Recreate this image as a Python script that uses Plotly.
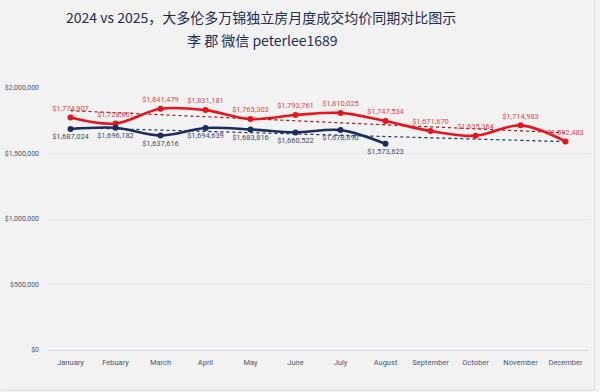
import numpy as np
import plotly.graph_objects as go

months = ["January", "Febuary", "March", "April", "May", "June", "July",
          "August", "September", "October", "November", "December"]
prices_2024 = [1774907, 1728801, 1841479, 1831181, 1763303, 1793761, 1810025,
               1747534, 1671670, 1635364, 1714983, 1592483]
prices_2025 = [1687024, 1696182, 1637616, 1694639, 1683816, 1660522, 1678690,
               1573623]
y_ticks = [0, 500000, 1000000, 1500000, 2000000]
title_line1 = "2024 vs 2025，大多伦多万锦独立房月度成交均价同期对比图示"
title_line2 = "李 郡 微信 peterlee1689"

RED = "#e8141c"
NAVY = "#1b2d5e"
BG = "#f2f2f2"

L, R, T, B = 47.5, 11.5, 88, 42
W, H = 600, 392
PW, PH = W - L - R, H - T - B

def fmt(v):
    return "${:,.0f}".format(v)

def trend(vals, n_total):
    x = np.arange(len(vals))
    k, b = np.polyfit(x, vals, 1)
    xx = np.arange(n_total)
    return k * xx + b

def py(pix_y):
    return (H - B - pix_y) / PH

def px(pix_x):
    return (pix_x - L) / PW

fig = go.Figure()

fig.add_trace(go.Scatter(
    x=months, y=trend(prices_2024, 12), mode="lines",
    line=dict(color="#a0141c", width=1.2, dash="dot"),
    hoverinfo="skip", showlegend=False))
fig.add_trace(go.Scatter(
    x=months, y=trend(prices_2025, 12), mode="lines",
    line=dict(color="#1b2d5e", width=1.2, dash="dot"),
    hoverinfo="skip", showlegend=False))

fig.add_trace(go.Scatter(
    x=months, y=prices_2024, mode="lines+markers+text", name="2024",
    line=dict(color=RED, width=2.6, shape="spline", smoothing=1.0),
    marker=dict(color=RED, size=6),
    text=[fmt(v) for v in prices_2024], textposition="top center",
    textfont=dict(color="#e0474a", size=7.5, family="Roboto"),
    cliponaxis=False, showlegend=False))
fig.add_trace(go.Scatter(
    x=months[:len(prices_2025)], y=prices_2025, mode="lines+markers+text", name="2025",
    line=dict(color=NAVY, width=2.6, shape="spline", smoothing=1.0),
    marker=dict(color=NAVY, size=6),
    text=[fmt(v) for v in prices_2025], textposition="bottom center",
    textfont=dict(color="#3e4c6e", size=7.5, family="Roboto"),
    cliponaxis=False, showlegend=False))

title_font = dict(family="Noto Sans CJK SC, Noto Sans", size=14, color="#1f2d52")

fig.update_layout(
    width=W, height=H,
    paper_bgcolor=BG, plot_bgcolor=BG,
    margin=dict(l=L, r=R, t=T, b=B, autoexpand=False),
    xaxis=dict(
        type="category", range=[-0.5, 11.5],
        showgrid=False, showline=True, linecolor="#d5d8de", linewidth=1,
        ticks="", tickangle=0, ticklabelstandoff=5,
        tickfont=dict(size=7.5, color="#4a5572", family="Roboto"),
        fixedrange=True, automargin=False),
    yaxis=dict(
        range=[0, 2000000], tickvals=y_ticks,
        ticktext=[fmt(v) for v in y_ticks],
        showgrid=True, gridcolor="#e4e8ee", gridwidth=1, zeroline=False,
        tickfont=dict(size=7, color="#4a5572", family="Roboto"),
        ticklabelstandoff=8, fixedrange=True, automargin=False),
    annotations=[
        dict(text=title_line1, xref="paper", yref="paper", x=px(261), y=py(17),
             xanchor="center", yanchor="middle", showarrow=False, font=title_font),
        dict(text=title_line2, xref="paper", yref="paper", x=px(262), y=py(40),
             xanchor="center", yanchor="middle", showarrow=False, font=title_font),
    ],
    shapes=[
        dict(type="line", xref="paper", yref="paper",
             x0=px(595), x1=px(595), y0=py(390), y1=py(0),
             line=dict(color="#dcdcdc", width=1)),
        dict(type="line", xref="paper", yref="paper",
             x0=px(0), x1=px(595), y0=py(390), y1=py(390),
             line=dict(color="#dcdcdc", width=1)),
    ],
)

fig.write_html(
    "out.html",
    config={"displayModeBar": False},
    post_script="document.body.style.margin='0px';document.body.style.background='%s';" % BG,
)
